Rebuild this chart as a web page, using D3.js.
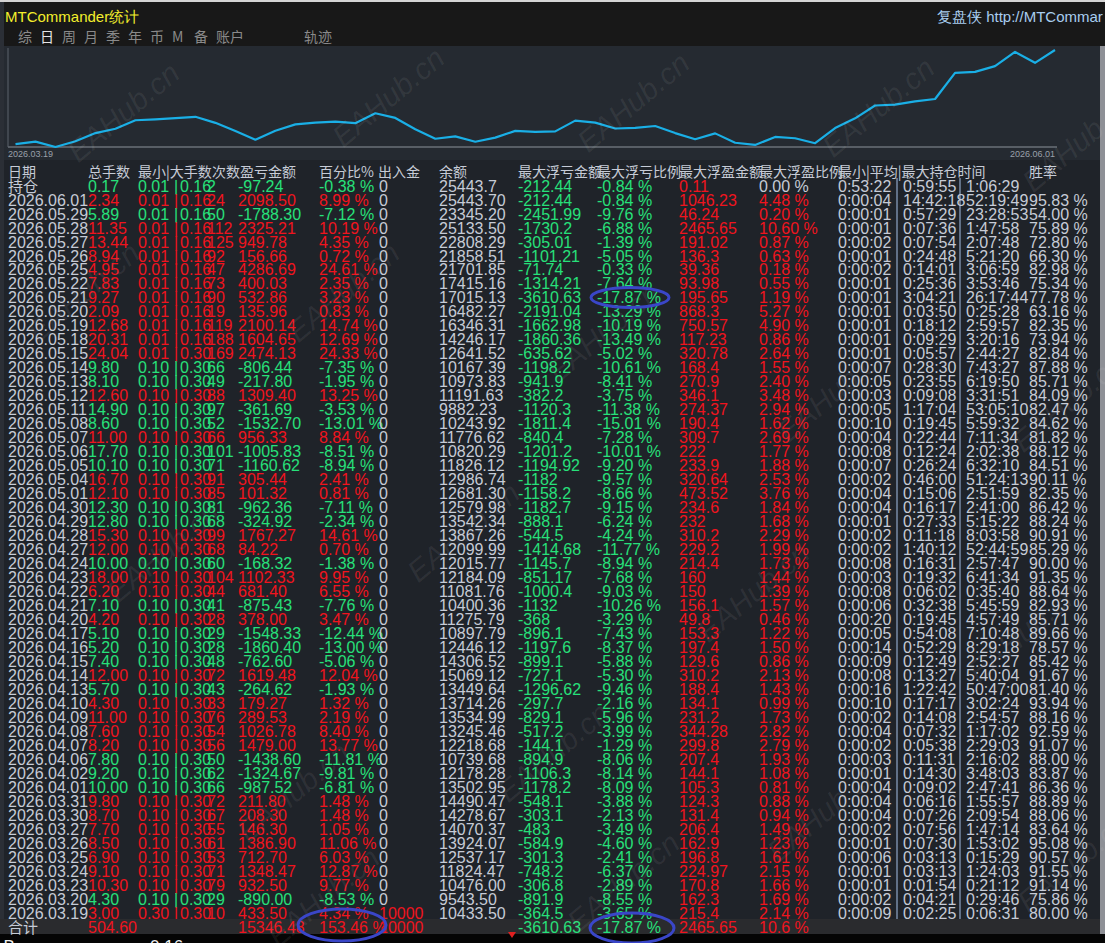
<!DOCTYPE html>
<html><head><meta charset="utf-8">
<script src="https://cdn.jsdelivr.net/npm/d3@7"></script>
<style>
html,body{margin:0;padding:0;background:#000;overflow:hidden}
svg{display:block}
</style></head><body>
<svg id="c" width="1105" height="943"></svg>
<script>
// ---------------- DATA ----------------
const dates=["2026.06.01","2026.05.29","2026.05.28","2026.05.27","2026.05.26","2026.05.25","2026.05.22","2026.05.21","2026.05.20","2026.05.19","2026.05.18","2026.05.15","2026.05.14","2026.05.13","2026.05.12","2026.05.11","2026.05.08","2026.05.07","2026.05.06","2026.05.05","2026.05.04","2026.05.01","2026.04.30","2026.04.29","2026.04.28","2026.04.27","2026.04.24","2026.04.23","2026.04.22","2026.04.21","2026.04.20","2026.04.17","2026.04.16","2026.04.15","2026.04.14","2026.04.13","2026.04.10","2026.04.09","2026.04.08","2026.04.07","2026.04.06","2026.04.02","2026.04.01","2026.03.31","2026.03.30","2026.03.27","2026.03.26","2026.03.25","2026.03.24","2026.03.23","2026.03.20","2026.03.19"];
const lots=["2.34","5.89","11.35","13.44","8.94","4.95","7.83","9.27","2.09","12.68","20.31","24.04","9.80","8.10","12.60","14.90","8.60","11.00","17.70","10.10","16.70","12.10","12.30","12.80","15.30","12.00","10.00","18.00","6.20","7.10","4.20","5.10","5.20","7.40","12.00","5.70","4.30","11.00","7.60","8.20","7.80","9.20","10.00","9.80","8.70","7.70","8.50","6.90","9.10","10.30","4.30","3.00"];
const minLots=["0.01","0.01","0.01","0.01","0.01","0.01","0.01","0.01","0.01","0.01","0.01","0.01","0.10","0.10","0.10","0.10","0.10","0.10","0.10","0.10","0.10","0.10","0.10","0.10","0.10","0.10","0.10","0.10","0.10","0.10","0.10","0.10","0.10","0.10","0.10","0.10","0.10","0.10","0.10","0.10","0.10","0.10","0.10","0.10","0.10","0.10","0.10","0.10","0.10","0.10","0.10","0.30"];
const maxLots=["0.16","0.16","0.16","0.16","0.16","0.16","0.16","0.16","0.16","0.16","0.16","0.30","0.30","0.30","0.30","0.30","0.30","0.30","0.30","0.30","0.30","0.30","0.30","0.30","0.30","0.30","0.30","0.30","0.30","0.30","0.30","0.30","0.30","0.30","0.30","0.30","0.30","0.30","0.30","0.30","0.30","0.30","0.30","0.30","0.30","0.30","0.30","0.30","0.30","0.30","0.30","0.30"];
const counts=["24","50","112","125","92","47","73","90","19","119","188","169","66","49","88","97","52","66","101","71","91","85","81","68","99","68","60","104","44","41","28","29","28","48","72","43","33","76","54","56","50","62","66","72","67","55","61","53","71","79","29","10"];
const pnl=["2098.50","-1788.30","2325.21","949.78","156.66","4286.69","400.03","532.86","135.96","2100.14","1604.65","2474.13","-806.44","-217.80","1309.40","-361.69","-1532.70","956.33","-1005.83","-1160.62","305.44","101.32","-962.36","-324.92","1767.27","84.22","-168.32","1102.33","681.40","-875.43","378.00","-1548.33","-1860.40","-762.60","1619.48","-264.62","179.27","289.53","1026.78","1479.00","-1438.60","-1324.67","-987.52","211.80","208.30","146.30","1386.90","712.70","1348.47","932.50","-890.00","433.50"];
const pnlPct=["8.99","-7.12","10.19","4.35","0.72","24.61","2.35","3.23","0.83","14.74","12.69","24.33","-7.35","-1.95","13.25","-3.53","-13.01","8.84","-8.51","-8.94","2.41","0.81","-7.11","-2.34","14.61","0.70","-1.38","9.95","6.55","-7.76","3.47","-12.44","-13.00","-5.06","12.04","-1.93","1.32","2.19","8.40","13.77","-11.81","-9.81","-6.81","1.48","1.48","1.05","11.06","6.03","12.87","9.77","-8.53","4.34"];
const deposits=["0","0","0","0","0","0","0","0","0","0","0","0","0","0","0","0","0","0","0","0","0","0","0","0","0","0","0","0","0","0","0","0","0","0","0","0","0","0","0","0","0","0","0","0","0","0","0","0","0","0","0","10000"];
const balance=["25443.70","23345.20","25133.50","22808.29","21858.51","21701.85","17415.16","17015.13","16482.27","16346.31","14246.17","12641.52","10167.39","10973.83","11191.63","9882.23","10243.92","11776.62","10820.29","11826.12","12986.74","12681.30","12579.98","13542.34","13867.26","12099.99","12015.77","12184.09","11081.76","10400.36","11275.79","10897.79","12446.12","14306.52","15069.12","13449.64","13714.26","13534.99","13245.46","12218.68","10739.68","12178.28","13502.95","14490.47","14278.67","14070.37","13924.07","12537.17","11824.47","10476.00","9543.50","10433.50"];
const ddAmt=["-212.44","-2451.99","-1730.2","-305.01","-1101.21","-71.74","-1314.21","-3610.63","-2191.04","-1662.98","-1860.36","-635.62","-1198.2","-941.9","-382.2","-1120.3","-1811.4","-840.4","-1201.2","-1194.92","-1182","-1158.2","-1182.7","-888.1","-544.5","-1414.68","-1145.7","-851.17","-1000.4","-1132","-368","-896.1","-1197.6","-899.1","-727.1","-1296.62","-297.7","-829.1","-517.2","-144.1","-894.9","-1106.3","-1178.2","-548.1","-303.1","-483","-584.9","-301.3","-748.2","-306.8","-891.9","-364.5"];
const ddPct=["-0.84","-9.76","-6.88","-1.39","-5.05","-0.33","-7.64","-17.87","-13.29","-10.19","-13.49","-5.02","-10.61","-8.41","-3.75","-11.38","-15.01","-7.28","-10.01","-9.20","-9.57","-8.66","-9.15","-6.24","-4.24","-11.77","-8.94","-7.68","-9.03","-10.26","-3.29","-7.43","-8.37","-5.88","-5.30","-9.46","-2.16","-5.96","-3.99","-1.29","-8.06","-8.14","-8.09","-3.88","-2.13","-3.49","-4.60","-2.41","-6.37","-2.89","-8.55","-3.65"];
const fpAmt=["1046.23","46.24","2465.65","191.02","136.3","39.36","93.98","195.65","868.3","750.57","117.23","320.78","168.4","270.9","346.1","274.37","190.4","309.7","222","233.9","320.64","473.52","234.6","232","310.2","229.2","214.4","160","150","156.1","49.8","153.3","197.4","129.6","310.2","188.4","134.1","231.2","344.28","299.8","207.4","144.1","105.3","124.3","131.4","206.4","162.9","196.8","224.97","170.8","162.3","215.4"];
const fpPct=["4.48","0.20","10.60","0.87","0.63","0.18","0.55","1.19","5.27","4.90","0.86","2.64","1.55","2.40","3.48","2.94","1.62","2.69","1.77","1.88","2.53","3.76","1.84","1.68","2.29","1.99","1.73","1.44","1.39","1.57","0.46","1.22","1.50","0.86","2.13","1.43","0.99","1.73","2.82","2.79","1.93","1.08","0.81","0.88","0.94","1.49","1.23","1.61","2.15","1.66","1.69","2.14"];
const minTime=["0:00:04","0:00:01","0:00:01","0:00:02","0:00:01","0:00:02","0:00:01","0:00:01","0:00:01","0:00:01","0:00:01","0:00:01","0:00:07","0:00:05","0:00:03","0:00:05","0:00:10","0:00:04","0:00:08","0:00:07","0:00:02","0:00:04","0:00:04","0:00:01","0:00:02","0:00:02","0:00:08","0:00:03","0:00:08","0:00:06","0:00:20","0:00:05","0:00:14","0:00:09","0:00:08","0:00:16","0:00:10","0:00:02","0:00:04","0:00:02","0:00:03","0:00:01","0:00:04","0:00:04","0:00:04","0:00:02","0:00:01","0:00:06","0:00:01","0:00:01","0:00:02","0:00:09"];
const avgTime=["14:42:18","0:57:29","0:07:36","0:07:54","0:24:48","0:14:01","0:25:36","3:04:21","0:03:50","0:18:12","0:09:29","0:05:57","0:28:30","0:23:55","0:09:08","1:17:04","0:19:45","0:22:44","0:12:24","0:26:24","0:46:00","0:15:06","0:16:17","0:27:33","0:11:18","1:40:12","0:16:31","0:19:32","0:06:02","0:32:38","0:19:45","0:54:08","0:52:29","0:12:49","0:13:27","1:22:42","0:17:17","0:14:08","0:07:32","0:05:38","0:11:31","0:14:30","0:09:02","0:06:16","0:07:26","0:07:56","0:07:30","0:03:13","0:03:13","0:01:54","0:04:21","0:02:25"];
const maxTime=["52:19:49","23:28:53","1:47:58","2:07:48","5:21:20","3:06:59","3:53:46","26:17:44","0:25:28","2:59:57","3:20:16","2:44:27","7:43:27","6:19:50","3:31:51","53:05:10","5:59:32","7:11:34","2:02:38","6:32:10","51:24:13","2:51:59","2:41:00","5:15:22","8:03:58","52:44:59","2:57:47","6:41:34","0:35:40","5:45:59","4:57:49","7:10:48","8:29:18","2:52:27","5:40:04","50:47:00","3:02:24","2:54:57","1:17:02","2:29:03","2:16:02","3:48:03","2:47:41","1:55:57","2:09:54","1:47:14","1:53:02","0:15:29","1:24:03","0:21:12","0:29:46","0:06:31"];
const winRate=["95.83","54.00","75.89","72.80","66.30","82.98","75.34","77.78","63.16","82.35","73.94","82.84","87.88","85.71","84.09","82.47","84.62","81.82","88.12","84.51","90.11","82.35","86.42","88.24","90.91","85.29","90.00","91.35","88.64","82.93","85.71","89.66","78.57","85.42","91.67","81.40","93.94","88.16","92.59","91.07","88.00","83.87","86.36","88.89","88.06","83.64","95.08","90.57","91.55","91.14","75.86","80.00"];
// open position row (持仓)
const openRow=["持仓","0.17","0.01","0.16","2","-97.24","-0.38","0","25443.7","-212.44","-0.84","0.11","0.00","0:53:22","0:59:55","1:06:29",""];
// totals row (合计)
const totalRow=["合计","504.60","","","","15346.48","153.46","10000","","-3610.63","-17.87","2465.65","10.6","","","",""];
const startEquity=10000;
const headers=["日期","总手数","最小|大手数","次数","盈亏金额","百分比%","出入金","余额","最大浮亏金额","最大浮亏比例","最大浮盈金额","最大浮盈比例","最小|平均|最大持仓时间","胜率"];
const tabs=["综","日","周","月","季","年","币","M","备","账户","轨迹"];

// ---------------- LAYOUT / STYLE ----------------
const W=1105,H=943;
const C={bg:"#1f2329",top:"#181818",panel:"#252a31",gray:"#c6cbd6",green:"#27e07a",red:"#f0141e",line:"#1aafe6"};
const NUM="'Liberation Sans',Arial,sans-serif";
const CJK="'Noto Sans CJK SC','Liberation Sans',sans-serif";
const svg=d3.select("#c");

svg.append("rect").attr("width",W).attr("height",H).attr("fill",C.bg);
svg.append("rect").attr("width",W).attr("height",46).attr("fill",C.top);
svg.append("rect").attr("y",0).attr("width",W).attr("height",2).attr("fill","#d4d4d4");
svg.append("rect").attr("y",46).attr("width",W).attr("height",114).attr("fill",C.panel);
svg.append("rect").attr("x",0).attr("y",2).attr("width",4).attr("height",932).attr("fill","#2b2f36");

// title
svg.append("text").attr("x",5).attr("y",22).attr("font-family",NUM).attr("font-size",15).attr("fill","#f3ee2c").text("MTCommander统计");
svg.append("text").attr("x",937).attr("y",22).attr("font-family",NUM).attr("font-size",15).attr("fill","#a8cdef").text("复盘侠 http://MTCommar");
const tabX=[18,40,62,84,106,128,150,172,194,216,304];
svg.selectAll("text.tab").data(tabs).join("text").attr("class","tab")
  .attr("x",(d,i)=>tabX[i]).attr("y",42).attr("font-family",CJK).attr("font-size",14)
  .attr("fill",(d,i)=>i===1?"#e6e6e6":"#8a8a8a").text(d=>d);

// ---------------- EQUITY CURVE ----------------
const curve=[startEquity].concat(balance.slice().reverse().map(Number));
const cx=d3.scaleLinear().domain([0,curve.length-1]).range([15.5,1055]);
const cy=d3.scaleLinear().domain([d3.min(curve),d3.max(curve)]).range([147,50]);
svg.append("line").attr("x1",8).attr("x2",1057).attr("y1",147).attr("y2",147).attr("stroke","#8c929b").attr("stroke-width",1);
svg.append("line").attr("x1",8).attr("x2",8).attr("y1",48).attr("y2",147).attr("stroke","#5d636c").attr("stroke-width",1);
svg.append("path").datum(curve).attr("fill","none").attr("stroke",C.line).attr("stroke-width",2.2)
  .attr("stroke-linejoin","round").attr("d",d3.line().x((d,i)=>cx(i)).y(d=>cy(d)));
svg.append("text").attr("x",8).attr("y",157).attr("font-family",NUM).attr("font-size",9).attr("fill","#9aa0aa").text(dates[dates.length-1]);
svg.append("text").attr("x",1055).attr("y",157).attr("text-anchor","end").attr("font-family",NUM).attr("font-size",9).attr("fill","#9aa0aa").text(dates[0]);

// ---------------- TABLE ----------------
const rows=[openRow].concat(dates.map((d,i)=>[d,lots[i],minLots[i],maxLots[i],counts[i],pnl[i],pnlPct[i],deposits[i],balance[i],ddAmt[i],ddPct[i],fpAmt[i],fpPct[i],minTime[i],avgTime[i],maxTime[i],winRate[i]])).concat([totalRow]);
const ry=d3.scaleLinear().domain([0,rows.length-1]).range([186,186+13.98*(rows.length-1)]);
const colX=[8,88,138,180,207,238,319,379,439,518,597,679,759,838,903,966,1029];
const pctCols=new Set([6,10,12,16]);

// time column separators
[897,960].forEach(x=>svg.append("line").attr("x1",x).attr("x2",x).attr("y1",178).attr("y2",919).attr("stroke","#8fa6c8").attr("stroke-width",1.2));

// headers
const headX=[8,88,138,212,240,319,378,439,518,597,679,759,838,1029];
svg.selectAll("text.hd").data(headers).join("text").attr("class","hd")
  .attr("x",(d,i)=>headX[i]).attr("y",177).attr("font-family",CJK).attr("font-size",14).attr("fill",C.gray).text(d=>d);

function drawRow(r,ri){
  const y=ry(ri)+5.6;
  const sign=parseFloat(r[5]);
  const pcol=sign<0?C.green:C.red;
  const g=svg.append("g");
  r.forEach((v,ci)=>{
    if(v==="")return;
    let col=C.gray;
    if(ci>=1&&ci<=6)col=pcol;
    if(ci===7)col=(v!=="0")?C.red:C.gray;
    if(ci===9||ci===10)col=C.green;
    if(ci===11||ci===12)col=parseFloat(v)===0?C.gray:C.red;
    const txt=pctCols.has(ci)?v+" %":v;
    const cjk=ci===0&&isNaN(+v[0]);
    g.append("text").attr("x",colX[ci]).attr("y",y)
      .attr("font-family",cjk?CJK:NUM).attr("font-size",cjk?15:16)
      .attr("fill",col).text(txt);
  });
  if(r[2]!==""){
    g.append("text").attr("x",174).attr("y",y).attr("font-family",NUM).attr("font-size",16).attr("fill",pcol).text("|");
  }
}
rows.slice(0,-1).forEach((r,ri)=>drawRow(r,ri));
// totals band overlays the last daily row's lower edge
svg.append("rect").attr("y",919).attr("width",W).attr("height",15).attr("fill","#2a2b2e");
svg.append("rect").attr("y",934).attr("width",W).attr("height",9).attr("fill","#050505");
drawRow(rows[rows.length-1],rows.length-1);
svg.append("rect").attr("x",1100).attr("y",46).attr("width",5).attr("height",888).attr("fill","#8e9096");

// watermarks
const wm=[[130,120],[395,105],[640,110],[885,115],[1085,150],[90,300],[350,300],[610,340],[840,400],[1075,410],[170,560],[470,540],[760,600],[1030,640],[300,800],[560,760],[830,820],[1080,870],[330,905],[630,890]];
svg.selectAll("text.wm").data(wm).join("text").attr("class","wm")
  .attr("transform",d=>`translate(${d[0]},${d[1]}) rotate(-40)`).attr("text-anchor","middle")
  .attr("font-family",NUM).attr("font-style","italic").attr("font-size",30)
  .attr("fill","#ffffff").attr("fill-opacity",0.07).text("EAHub.cn");

// annotations (blue ellipses)
const ell=[[630,297.5,39,10],[342,925,44,16],[632,928,42,15]];
svg.selectAll("ellipse.an").data(ell).join("ellipse").attr("class","an")
  .attr("cx",d=>d[0]).attr("cy",d=>d[1]).attr("rx",d=>d[2]).attr("ry",d=>d[3])
  .attr("fill","none").attr("stroke","#3a46c8").attr("stroke-width",3);

// bottom cut-off text
svg.append("text").attr("x",-6).attr("y",952).attr("font-family",NUM).attr("font-size",17).attr("fill","#f0f0f0").text("t Buy");
svg.append("text").attr("x",150).attr("y",952).attr("font-family",NUM).attr("font-size",17).attr("fill","#f0f0f0").text("0.16");
svg.append("path").attr("d","M508,932 L516,932 L512,938 Z").attr("fill","#e02020");
</script>
</body></html>
